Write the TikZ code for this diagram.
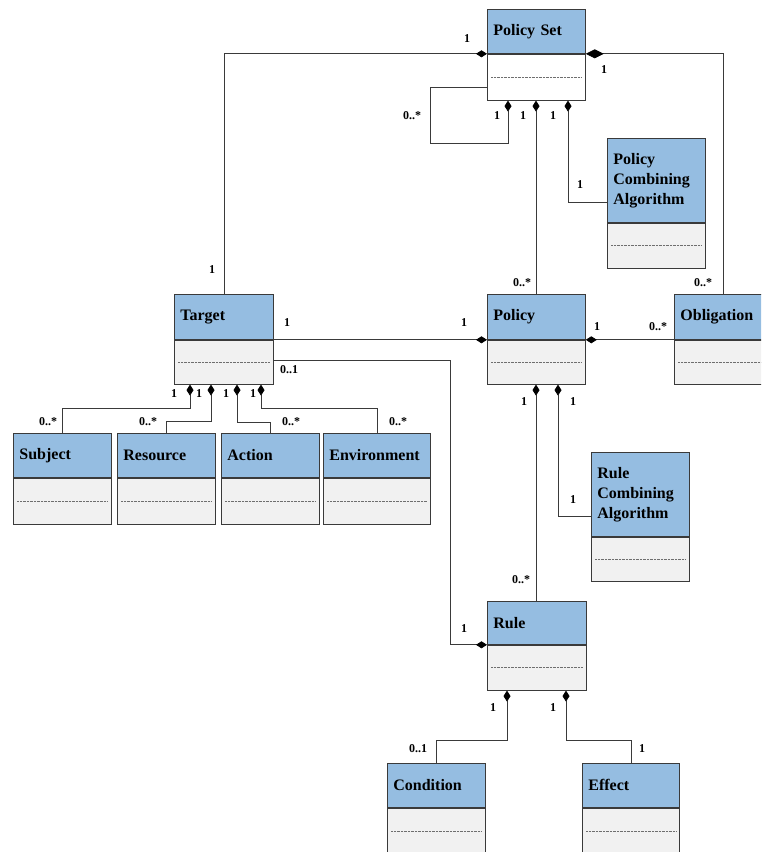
\documentclass[tikz,border=0pt]{standalone}
\usepackage{fontspec}
\setmainfont{Liberation Serif}
\usetikzlibrary{arrows.meta,calc}
\definecolor{hdr}{HTML}{95BDE1}
\definecolor{bdy}{HTML}{F1F1F1}
\definecolor{ln}{HTML}{3A3A3A}
\definecolor{dotc}{HTML}{6E6E6E}
\newcommand\umlbox[9]{% name, x, y, width, text width, head h, body h, body fill, text
  \node[hd, text width=#5pt, minimum height=#6pt] (#1) at (#2,#3) {#9};
  \node[bd, fill=#8, minimum width=#4pt, minimum height=#7pt] (#1b) at (#1.south west) {};
  \draw[dotline] ($(#1b.west)+(4,0)$) -- ($(#1b.east)+(-4,0)$);
}
\begin{document}
\begin{tikzpicture}[x=1pt,y=-1pt,
  hd/.style={draw=ln, fill=hdr, anchor=north west, inner xsep=6pt, inner ysep=0pt,
    align=left, font=\bfseries\fontsize{16}{20}\selectfont, line width=0.8pt},
  bd/.style={draw=ln, anchor=north west, inner sep=0pt, line width=0.8pt},
  dotline/.style={draw=dotc, line width=0.6pt, dash pattern=on 0.8pt off 0.6pt},
  conn/.style={draw=ln, line width=0.75pt},
  dm/.style={{Diamond[length=11pt,width=7pt,color=black]}-},
  bigdm/.style={{Diamond[length=18pt,width=9pt,color=black]}-},
  lbl/.style={font=\bfseries\fontsize{12}{13}\selectfont, inner sep=0pt}]
\useasboundingbox (0,0) rectangle (761,852);
\clip (0,0) rectangle (761,852);
\fill[white] (0,0) rectangle (761,852);

% boxes
\umlbox{ps}{487}{9}{98}{86}{44}{46}{white}{Policy Set}
\umlbox{pca}{607}{138}{98}{86}{84}{45}{bdy}{Policy\\Combining\\Algorithm}
\umlbox{pol}{487}{294}{98}{86}{45}{44}{bdy}{Policy}
\umlbox{obl}{674}{294}{98}{86}{45}{44}{bdy}{Obligation}
\umlbox{tgt}{174}{294}{99}{87}{45}{44}{bdy}{Target}
\umlbox{sub}{13}{433}{98}{86}{44}{46}{bdy}{Subject}
\umlbox{res}{117}{433}{98}{86}{44}{46}{bdy}{Resource}
\umlbox{act}{221}{433}{98}{86}{44}{46}{bdy}{Action}
\umlbox{env}{323}{433}{107}{95}{44}{46}{bdy}{Environment}
\umlbox{rca}{591}{452}{98}{86}{84}{44}{bdy}{Rule\\Combining\\Algorithm}
\umlbox{rule}{487}{601}{99}{87}{43}{45}{bdy}{Rule}
\umlbox{cond}{387}{763}{98}{86}{44}{46}{bdy}{Condition}
\umlbox{eff}{582}{763}{97}{85}{44}{46}{bdy}{Effect}

% connectors
\draw[conn,dm] (ps.south west) -| (tgt.north);
\draw[conn,bigdm] (ps.south east) -| (obl.north);
\draw[conn,dm] ($(psb.south west)+(21,0)$) -- ($(psb.south west)+(21,43)$)
  -| ($(psb.west)+(-57,10)$) -- ($(psb.west)+(0,10)$);
\draw[conn,dm] ($(psb.south west)+(49,0)$) -- ($(pol.north west)+(49,0)$);
\draw[conn,dm] ($(psb.south west)+(81,0)$) |- ($(pcab.north west)+(0,-20)$);
\draw[conn,dm] (pol.south west) -- (tgt.south east);
\draw[conn,dm] (pol.south east) -- (obl.south west);
\draw[conn,dm] (rule.south west) -- ++(-37,0) |- ($(tgtb.east)+(0,-2)$);
\draw[conn,dm] ($(tgtb.south west)+(16,0)$) -- ++(0,24) -| (sub.north);
\draw[conn,dm] ($(tgtb.south west)+(37,0)$) -- ++(0,37) -| (res.north);
\draw[conn,dm] ($(tgtb.south west)+(63,0)$) -- ++(0,38) -| (act.north);
\draw[conn,dm] ($(tgtb.south west)+(87,0)$) -- ++(0,24) -| (env.north);
\draw[conn,dm] ($(polb.south west)+(49,0)$) -- ($(rule.north west)+(49,0)$);
\draw[conn,dm] ($(polb.south west)+(71,0)$) |- ($(rcab.north west)+(0,-20)$);
\draw[conn,dm] ($(ruleb.south west)+(20,0)$) -- ++(0,50) -| (cond.north);
\draw[conn,dm] ($(ruleb.south west)+(79,0)$) -- ++(0,50) -| (eff.north);

% multiplicity labels
\node[lbl] (l1) at (467,39) {1};
\node[lbl] (l2) at (604,70) {1};
\node[lbl] (l3) at (412,116) {0..*};
\node[lbl] (l4) at (497,116) {1};
\node[lbl] (l5) at (523,116) {1};
\node[lbl] (l6) at (553,116) {1};
\node[lbl] (l7) at (580,185) {1};
\node[lbl] (l8) at (212,270) {1};
\node[lbl] (l9) at (522,283) {0..*};
\node[lbl] (l10) at (703,283) {0..*};
\node[lbl] (l11) at (287,323) {1};
\node[lbl] (l12) at (464,323) {1};
\node[lbl] (l13) at (597,327) {1};
\node[lbl] (l14) at (658,327) {0..*};
\node[lbl] (l15) at (289,370) {0..1};
\node[lbl] (l16) at (174,394) {1};
\node[lbl] (l17) at (199,394) {1};
\node[lbl] (l18) at (226,394) {1};
\node[lbl] (l19) at (253,394) {1};
\node[lbl] (l20) at (48,422) {0..*};
\node[lbl] (l21) at (148,422) {0..*};
\node[lbl] (l22) at (291,422) {0..*};
\node[lbl] (l23) at (398,422) {0..*};
\node[lbl] (l24) at (524,402) {1};
\node[lbl] (l25) at (573,402) {1};
\node[lbl] (l26) at (573,500) {1};
\node[lbl] (l27) at (521,580) {0..*};
\node[lbl] (l28) at (464,629) {1};
\node[lbl] (l29) at (493,708) {1};
\node[lbl] (l30) at (553,708) {1};
\node[lbl] (l31) at (418,749) {0..1};
\node[lbl] (l32) at (642,749) {1};
\end{tikzpicture}
\end{document}
